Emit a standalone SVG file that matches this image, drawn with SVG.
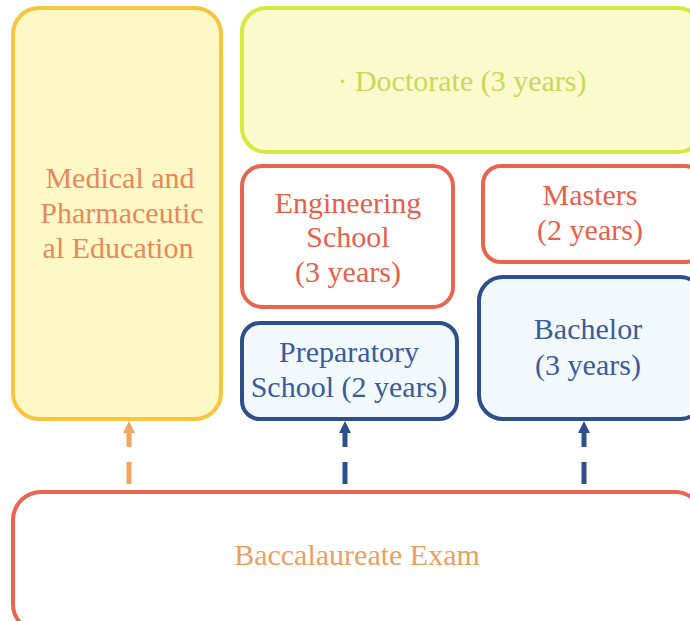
<svg xmlns="http://www.w3.org/2000/svg" width="690" height="621" viewBox="0 0 690 621">
<defs>
<style>
text{font-family:'Liberation Serif','DejaVu Serif',serif;font-size:30px;text-anchor:middle}
.box{stroke-width:4}
.red{fill:#ffffff;stroke:#ea6550}
.blue{fill:#f2f9fc;stroke:#2f4e8e}
.tred{fill:#e8604c}
.tblue{fill:#3b5b9c}
.conn{fill:none;stroke-width:5;stroke-dasharray:22 15}
</style>
<marker id="ao" markerUnits="userSpaceOnUse" markerWidth="14" markerHeight="14" refX="7" refY="12" orient="0" viewBox="0 0 14 14">
<path d="M1,13 L7,1 L13,13 Z" fill="#f2a562"/>
</marker>
<marker id="ab" markerUnits="userSpaceOnUse" markerWidth="14" markerHeight="14" refX="7" refY="12" orient="0" viewBox="0 0 14 14">
<path d="M1,13 L7,1 L13,13 Z" fill="#2f4e8e"/>
</marker>
</defs>
<rect width="690" height="621" fill="#ffffff"/>
<g id="medical">
<rect class="box" x="13" y="8" width="208" height="411" rx="26" fill="#fdf8c6" stroke="#f6c640"/>
<text x="120" y="188" fill="#e9885a">Medical and</text>
<text x="122" y="223" fill="#e9885a">Pharmaceutic</text>
<text x="118" y="258" fill="#e9885a">al Education</text>
</g>
<g id="doctorate">
<rect class="box" x="242" y="8" width="460" height="144" rx="24" fill="#fafacd" stroke="#d6ea3e"/>
<text x="462" y="91" fill="#c9d858">· Doctorate (3 years)</text>
</g>
<g id="engineering">
<rect class="box red" x="242" y="166" width="211" height="141" rx="20"/>
<text class="tred" x="348" y="213">Engineering</text>
<text class="tred" x="348" y="247">School</text>
<text class="tred" x="348" y="282">(3 years)</text>
</g>
<g id="masters">
<rect class="box red" x="483" y="166" width="220" height="96" rx="18"/>
<text class="tred" x="590" y="205">Masters</text>
<text class="tred" x="590" y="240">(2 years)</text>
</g>
<g id="preparatory">
<rect class="box blue" x="242" y="323" width="215" height="96" rx="18"/>
<text class="tblue" x="349" y="362">Preparatory</text>
<text class="tblue" x="349" y="397">School (2 years)</text>
</g>
<g id="bachelor">
<rect class="box blue" x="479" y="277" width="225" height="142" rx="24"/>
<text class="tblue" x="588" y="339">Bachelor</text>
<text class="tblue" x="588" y="375">(3 years)</text>
</g>
<g id="baccalaureate">
<rect class="box red" x="13" y="492" width="690" height="140" rx="28"/>
<text x="357" y="565" fill="#eba062">Baccalaureate Exam</text>
</g>
<g id="connectors">
<line class="conn" x1="129" y1="484" x2="129" y2="432" stroke="#f2a562" marker-end="url(#ao)"/>
<line class="conn" x1="345" y1="484" x2="345" y2="432" stroke="#2f4e8e" marker-end="url(#ab)"/>
<line class="conn" x1="584" y1="484" x2="584" y2="432" stroke="#2f4e8e" marker-end="url(#ab)"/>
</g>
</svg>
